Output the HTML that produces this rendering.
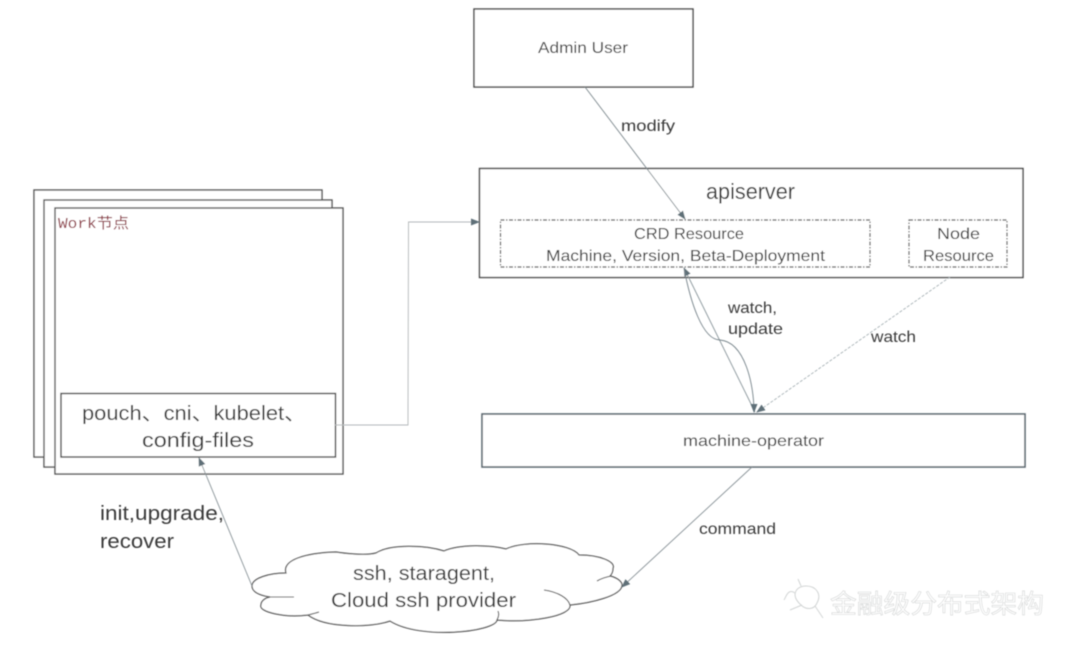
<!DOCTYPE html>
<html><head><meta charset="utf-8"><style>
html,body{margin:0;padding:0;background:#fff;width:1080px;height:651px;overflow:hidden}
svg{display:block}
text{font-family:"Liberation Sans","Noto Sans CJK SC",sans-serif;fill:#3a3a3a}
</style></head><body>
<svg width="1080" height="651" viewBox="0 0 1080 651" xmlns="http://www.w3.org/2000/svg">
<defs>
<filter id="b" x="-5%" y="-5%" width="110%" height="110%"><feGaussianBlur stdDeviation="0.4"/></filter>
<marker id="a" markerWidth="10" markerHeight="8" refX="8" refY="4" orient="auto" markerUnits="userSpaceOnUse"><path d="M0,0.5 L9,4 L0,7.5z" fill="#5f7078"/></marker>
</defs>
<rect width="1080" height="651" fill="#fff"/>
<g filter="url(#b)">
<g fill="#fff" stroke="#555" stroke-width="1.4">
<rect x="34" y="190" width="288" height="267"/>
<rect x="44" y="200" width="288" height="267"/>
<rect x="55" y="208" width="288" height="266"/>
<rect x="61" y="393.5" width="274.500" height="63.500" stroke="#444"/>
<rect x="474" y="9" width="219" height="78" stroke="#444"/>
<rect x="479.500" y="168.500" width="543.500" height="109" stroke="#444"/>
<rect x="482" y="414" width="543" height="53" stroke="#5c6870" stroke-width="1.6"/>
</g>
<g fill="none" stroke="#555" stroke-width="1.2" stroke-dasharray="4 1.500 1.500 1.500">
<rect x="500.500" y="220" width="369.500" height="47"/>
<rect x="909" y="220" width="98" height="47"/>
</g>
<path d="M252,586 C252,578 270,573 286,573 C282,560 305,553 336,552 C342,553 365,556 376,553 C390,544 425,545 444,551 C460,544 490,545 506,549 C525,540 570,543 579,555 C600,555 616,562 613,568 C613,572 612,574 610,576 C618,578 622,582 622,585 C622,596 590,603 570,605 C572,616 530,623 497,620 C495,632 420,640 390,621 C370,628 325,628 308,615 C285,618 258,612 261,605 C261,601 265,598 270,597 C258,595 252,591 252,586 Z" fill="#fff" stroke="#555" stroke-width="1.2"/>
<path d="M270,597 C278,597 286,597 294,597 M597,581 C602,578 606,577 611,576 M544,590 C558,592 568,598 570,605 M497,620 C499,616 499,614 498,611 M308,615 C312,614 316,613 319,612" fill="none" stroke="#555" stroke-width="1.100"/>
<g fill="none" stroke-width="0.9">
<path d="M585,87 L685,219" stroke="#7d898e" marker-end="url(#a)"/>
<path d="M335,425 H408 L408.500,222 H479" stroke="#b4b8ba" marker-end="url(#a)"/>
<path d="M755,412 L684,268" stroke="#8b979c" marker-end="url(#a)"/>
<path d="M684,268 C690,300 702,340 720,340 C745,342 754,385 754,412" stroke="#76838a" marker-end="url(#a)"/>
<path d="M950,277 L757,412" stroke="#a8b2b6" stroke-dasharray="3 1.500" marker-end="url(#a)"/>
<path d="M752,467 L622,587" stroke="#889297" marker-end="url(#a)"/>
<path d="M252,586 L199,458" stroke="#889297" marker-end="url(#a)"/>
</g>
<text x="538" y="53" font-size="16" textLength="90" lengthAdjust="spacingAndGlyphs">Admin User</text>
<text x="621" y="131" font-size="16" textLength="54" lengthAdjust="spacingAndGlyphs">modify</text>
<text x="706" y="199" font-size="22" textLength="89" lengthAdjust="spacingAndGlyphs">apiserver</text>
<text x="634" y="239" font-size="16" textLength="110" lengthAdjust="spacingAndGlyphs">CRD Resource</text>
<text x="546" y="261" font-size="16" textLength="279" lengthAdjust="spacingAndGlyphs">Machine, Version, Beta-Deployment</text>
<text x="937" y="239" font-size="16" textLength="43" lengthAdjust="spacingAndGlyphs">Node</text>
<text x="923" y="261" font-size="16" textLength="71" lengthAdjust="spacingAndGlyphs">Resource</text>
<text x="728" y="313" font-size="16" textLength="49" lengthAdjust="spacingAndGlyphs">watch,</text>
<text x="728" y="334" font-size="16" textLength="55" lengthAdjust="spacingAndGlyphs">update</text>
<text x="871" y="342" font-size="16" textLength="45" lengthAdjust="spacingAndGlyphs">watch</text>
<text x="683" y="446" font-size="16" textLength="141" lengthAdjust="spacingAndGlyphs">machine-operator</text>
<text x="699" y="534" font-size="16" textLength="77" lengthAdjust="spacingAndGlyphs">command</text>
<text x="82" y="420" font-size="20" textLength="224" lengthAdjust="spacingAndGlyphs">pouch、cni、kubelet、</text>
<text x="142" y="447" font-size="20" textLength="112" lengthAdjust="spacingAndGlyphs">config-files</text>
<text x="58" y="228" font-size="15" textLength="71" lengthAdjust="spacingAndGlyphs" style="font-family:'Liberation Mono','Noto Sans CJK SC',monospace;fill:#8c2f3c">Work节点</text>
<text x="100" y="520" font-size="20" textLength="124" lengthAdjust="spacingAndGlyphs">init,upgrade,</text>
<text x="100" y="548" font-size="20" textLength="74" lengthAdjust="spacingAndGlyphs">recover</text>
<text x="353" y="580" font-size="20" textLength="142" lengthAdjust="spacingAndGlyphs">ssh, staragent,</text>
<text x="331" y="607" font-size="20" textLength="185" lengthAdjust="spacingAndGlyphs">Cloud ssh provider</text>
<g fill="none" stroke="#d2d5d5" stroke-width="1">
<path d="M801,605 C790,595 796,586 806,586 C816,586 822,594 817,603 C814,610 806,610 801,605 Z"/>
<path d="M795,593 C788,588 786,597 784,600 M802,605 L790,610 M815,606 L823,618 M801,586 L798,579"/>
</g>
<text x="830" y="613" font-size="26" textLength="214" lengthAdjust="spacingAndGlyphs" style="fill:#fff;stroke:#d4d6d6;stroke-width:0.600">金融级分布式架构</text>
</g>
</svg>
</body></html>
